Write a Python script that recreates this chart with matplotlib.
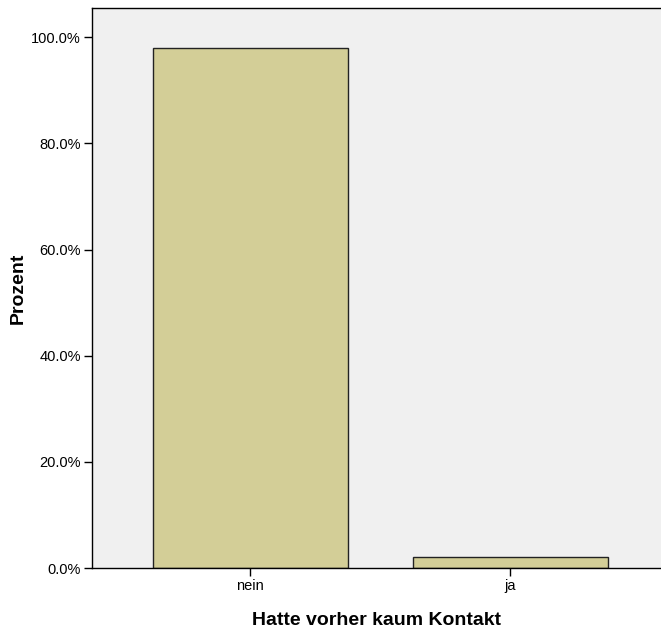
import matplotlib.pyplot as plt
from matplotlib.ticker import FuncFormatter

categories = ['nein', 'ja']
percent = [97.9, 2.1]
yticks = [0, 20, 40, 60, 80, 100]

plt.rcParams['font.family'] = ['Liberation Sans', 'DejaVu Sans']

fig = plt.figure(figsize=(6.61, 6.28), dpi=100)
ax = fig.add_axes([92 / 661, 60 / 628, 1 - 92 / 661, 560 / 628])
ax.set_facecolor('#f0f0f0')

x = range(len(categories))
ax.bar(x, percent, width=0.75, color='#d3ce97', edgecolor='#222222', linewidth=1.0)

ax.set_xlim(-0.608, 1.58)
ax.set_ylim(0, 105.5)
ax.set_xticks(list(x))
ax.set_xticklabels(categories)
ax.set_yticks(yticks)
ax.yaxis.set_major_formatter(FuncFormatter(lambda v, p: '%.1f%%' % v))
ax.tick_params(axis='both', direction='out', length=6, width=1, pad=2,
               labelsize=10.5, colors='black')
ax.spines['right'].set_visible(False)
for s in ['left', 'top', 'bottom']:
    ax.spines[s].set_linewidth(1)

ax.set_xlabel('Hatte vorher kaum Kontakt', fontsize=14, fontweight='bold')
ax.set_ylabel('Prozent', fontsize=14, fontweight='bold')
ax.xaxis.set_label_coords(0.5, -0.078)
ax.yaxis.set_label_coords(-0.114, 0.5)

fig.savefig('out.png', dpi=100)
